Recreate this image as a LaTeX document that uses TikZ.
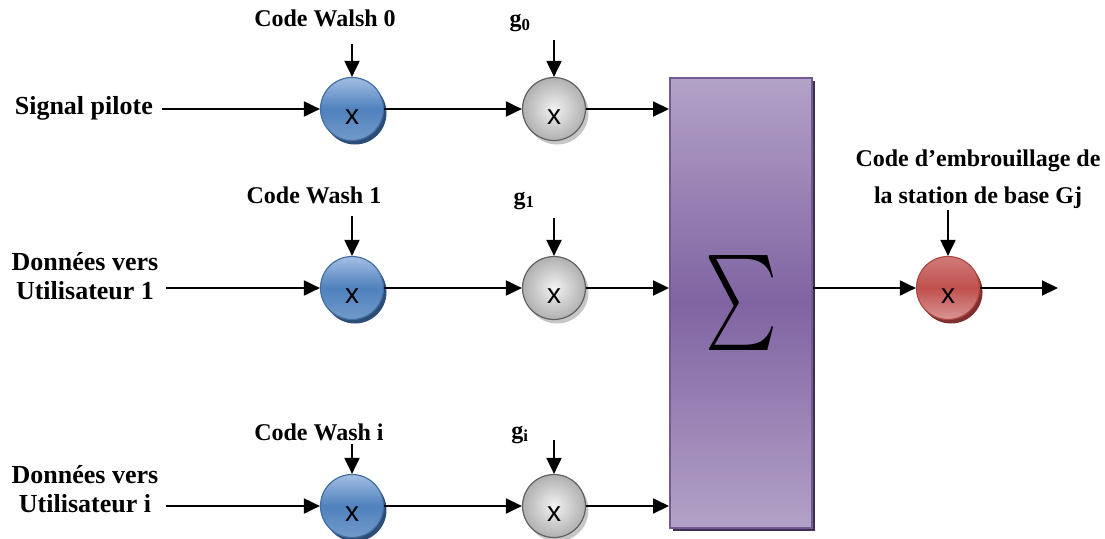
\documentclass[tikz,border=0pt]{standalone}
\usepackage{fontspec}
\setmainfont{Liberation Serif}
\newfontfamily\mulfont{Liberation Sans}
\usepackage{graphicx}
\usetikzlibrary{arrows.meta,shadows}
\definecolor{bluetop}{HTML}{A3BEE3}
\definecolor{bluemid}{HTML}{4F81BD}
\definecolor{bluedark}{HTML}{2C4D75}
\definecolor{redmid}{HTML}{C0504D}
\definecolor{reddark}{HTML}{7F2F2D}
\definecolor{purplemid}{HTML}{8064A2}
\definecolor{purplelight}{HTML}{B3A2C7}
\definecolor{purpledark}{HTML}{3F3151}

\begin{document}
\begin{tikzpicture}[x=1pt,y=-1pt,
  lbl/.style={font=\bfseries\fontsize{24}{30}\selectfont,align=center,inner sep=0pt,anchor=base},
  side/.style={font=\bfseries\fontsize{26}{29}\selectfont,align=center,inner sep=0pt},
  mul/.style={circle,minimum size=63pt,inner sep=0pt,line width=1.2pt,
    font=\mulfont\fontsize{28}{28}\selectfont,text height=31pt,text depth=0pt},
  mulblue/.style={mul,draw=bluemid!85!black,top color=bluetop,bottom color=bluemid!80!white,middle color=bluemid,
    general shadow={fill=bluedark,shadow xshift=3pt,shadow yshift=-4pt}},
  mulgray/.style={mul,draw=gray!75!black,inner color=gray!10,outer color=gray!62,
    general shadow={fill=gray!45,shadow xshift=3pt,shadow yshift=-4pt}},
  mulred/.style={mul,draw=redmid!90!black,top color=redmid!75!white,bottom color=redmid!60!white,middle color=redmid,
    general shadow={fill=reddark,shadow xshift=3pt,shadow yshift=-4pt}},
  sumbox/.style={rectangle,draw=purplemid!90!black,line width=2pt,minimum width=142pt,minimum height=450pt,inner sep=0pt,
    top color=purplelight,bottom color=purplelight,middle color=purplemid,
    general shadow={fill=purpledark,shadow xshift=3pt,shadow yshift=-3pt}},
  arr/.style={-{Triangle[length=16pt,width=15pt]},line width=2pt}
]
\useasboundingbox (0,0) rectangle (1105,538);

% multipliers
\node[mulblue] (w0) at (352,109) {x};
\node[mulblue] (w1) at (352,288) {x};
\node[mulblue] (wi) at (352,506) {x};
\node[mulgray] (g0) at (554,109) {x};
\node[mulgray] (g1) at (554,288) {x};
\node[mulgray] (gi) at (554,506) {x};
\node[sumbox] (sum) at (741,303) {\resizebox*{72pt}{95pt}{$\sum$}};
\node[mulred] (mr) at (948,288) {x};

% labels
\node[side,anchor=east] (sp) at (153,108) {Signal pilote};
\node[side] (d1) at (85,276) {Données vers\\Utilisateur 1};
\node[side] (di) at (85,489) {Données vers\\Utilisateur i};
\node[lbl] (cw0) at (325,27) {Code Walsh 0};
\node[lbl] (cw1) at (314,203) {Code Wash 1};
\node[lbl] (cwi) at (319,440) {Code Wash i};
\node[lbl] (lg0) at (520,27) {g\textsubscript{0}};
\node[lbl] (lg1) at (524,204) {g\textsubscript{1}};
\node[lbl] (lgi) at (520,438) {g\textsubscript{i}};
\node[lbl,font=\bfseries\fontsize{24}{37}\selectfont] (ce) at (978,203) {Code d’embrouillage de\\la station de base Gj};

% free ends
\coordinate (in0) at (162,109);
\coordinate (in1) at (166,288);
\coordinate (ini) at (166,506);
\coordinate (cw0a) at (352,44);
\coordinate (cw1a) at (352,216);
\coordinate (cwia) at (352,444);
\coordinate (lg0a) at (554,40);
\coordinate (lg1a) at (554,218);
\coordinate (lgia) at (554,440);
\coordinate (cea) at (948,210);
\coordinate (out) at (1058,288);

\draw[arr] (in0) -- (w0);
\draw[arr] (in1) -- (w1);
\draw[arr] (ini) -- (wi);
\draw[arr] (cw0a) -- (w0);
\draw[arr] (cw1a) -- (w1);
\draw[arr] (cwia) -- (wi);
\draw[arr] (lg0a) -- (g0);
\draw[arr] (lg1a) -- (g1);
\draw[arr] (lgia) -- (gi);
\draw[arr] (w0) -- (g0);
\draw[arr] (w1) -- (g1);
\draw[arr] (wi) -- (gi);
\draw[arr] (g0) -- (g0 -| sum.west);
\draw[arr] (g1) -- (g1 -| sum.west);
\draw[arr] (gi) -- (gi -| sum.west);
\draw[arr] (mr -| sum.east) -- (mr);
\draw[arr] (cea) -- (mr);
\draw[arr] (mr) -- (out);
\end{tikzpicture}
\end{document}
